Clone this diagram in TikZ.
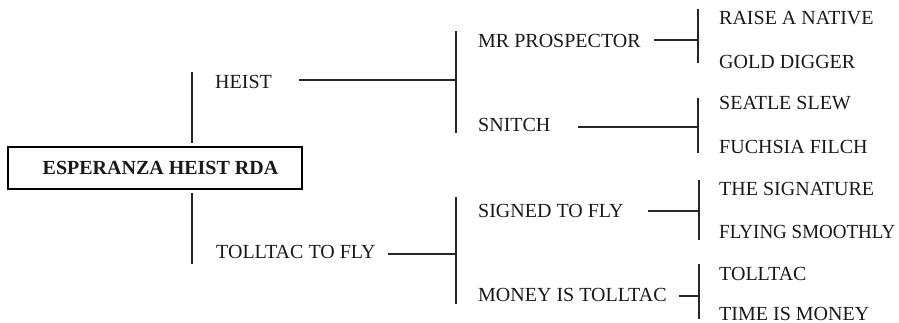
\documentclass[tikz,border=0pt]{standalone}
\usepackage{fontspec}
\setmainfont{Liberation Serif}
\begin{document}
\begin{tikzpicture}[x=1pt,y=-1pt,
  every node/.style={inner sep=0pt, text=black!90, font=\fontsize{20}{24}\selectfont},
  lbl/.style={anchor=base west},
  rootbox/.style={draw, line width=1.1pt, minimum width=294pt, minimum height=42pt, font=\fontsize{20}{24}\selectfont\bfseries},
  ln/.style={line width=1.1pt, draw=black!85}]
\useasboundingbox (0,0) rectangle (899,322);
% root
\node[rootbox] (root) at (155,168) {\hspace*{11pt}ESPERANZA HEIST RDA};
% generation 1
\node[lbl] (heist) at (215,88) {HEIST};
\node[lbl] (tolltac) at (216,258) {TOLLTAC TO FLY};
% generation 2
\node[lbl] (mrp) at (478,47) {MR PROSPECTOR};
\node[lbl] (snitch) at (478,131) {SNITCH};
\node[lbl] (signed) at (478,217) {SIGNED TO FLY};
\node[lbl] (money) at (478,301) {MONEY IS TOLLTAC};
% generation 3
\node[lbl] (raise) at (719,24) {RAISE A NATIVE};
\node[lbl] (gold) at (719,68) {GOLD DIGGER};
\node[lbl] (seatle) at (719,109) {SEATLE SLEW};
\node[lbl] (fuchsia) at (719,153) {FUCHSIA FILCH};
\node[lbl] (sig) at (719,195) {THE SIGNATURE};
\node[lbl] (flying) at (719,238) {\scalebox{0.95}[1]{FLYING SMOOTHLY}};
\node[lbl] (toll) at (719,280) {TOLLTAC};
\node[lbl] (time) at (719,320) {TIME IS MONEY};
% junction coordinates
\coordinate (r0t) at (192,72);
\coordinate (r0b) at (192,264);
\coordinate (m1t) at (456,31);
\coordinate (m1b) at (456,133);
\coordinate (m1j) at (456,80);
\coordinate (m2t) at (456,197);
\coordinate (m2b) at (456,304);
\coordinate (m2j) at (456,254);
\coordinate (a1t) at (698,9);
\coordinate (a1b) at (698,63);
\coordinate (a1j) at (698,40);
\coordinate (a2t) at (698,98);
\coordinate (a2b) at (698,153);
\coordinate (a2j) at (698,127);
\coordinate (a3t) at (699,180);
\coordinate (a3b) at (699,240);
\coordinate (a3j) at (699,211);
\coordinate (a4t) at (699,264);
\coordinate (a4b) at (699,319);
\coordinate (a4j) at (699,296);
% root trunk
\draw[ln, shorten >=3pt] (r0t) -- (root.north -| r0t);
\draw[ln, shorten <=3pt] (root.south -| r0b) -- (r0b);
% generation 1 brackets
\draw[ln] (m1t) -- (m1b);
\draw[ln] (m2t) -- (m2b);
\draw[ln] ([xshift=27pt]heist.east |- m1j) -- (m1j);
\draw[ln] ([xshift=12pt]tolltac.east |- m2j) -- (m2j);
% generation 2 brackets
\draw[ln] (a1t) -- (a1b);
\draw[ln] (a2t) -- (a2b);
\draw[ln] (a3t) -- (a3b);
\draw[ln] (a4t) -- (a4b);
\draw[ln] ([xshift=13pt]mrp.east |- a1j) -- (a1j);
\draw[ln] ([xshift=27pt]snitch.east |- a2j) -- (a2j);
\draw[ln] ([xshift=24pt]signed.east |- a3j) -- (a3j);
\draw[ln] ([xshift=12pt]money.east |- a4j) -- (a4j);
\end{tikzpicture}
\end{document}
